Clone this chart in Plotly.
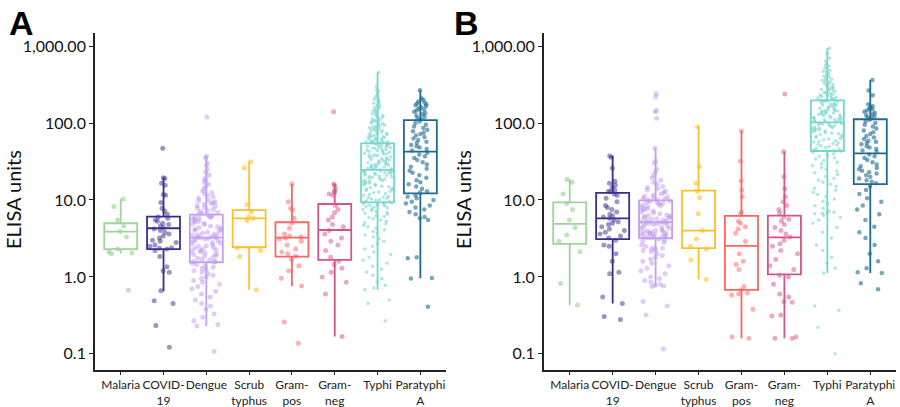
import plotly.graph_objects as go

categories = ["Malaria", "COVID-<br>19", "Dengue", "Scrub<br>typhus", "Gram-<br>pos",
              "Gram-<br>neg", "Typhi", "Paratyphi<br>A"]
line_colors = ["#9ed49a", "#3d2c8d", "#c2a0f0", "#ffbf2b", "#ff6464", "#d4538a", "#73d6cc", "#1d6b8f"]
point_colors = ["rgba(150,208,142,0.6)", "rgba(61,44,141,0.5)", "rgba(185,145,238,0.45)",
                "rgba(255,191,43,0.6)", "rgba(255,100,100,0.5)", "rgba(212,83,138,0.5)",
                "rgba(100,208,198,0.5)", "rgba(29,107,143,0.6)"]
point_sizes = [5, 5, 5, 5, 5, 5, 3.5, 4.5]
ytick_vals = [0.1, 1, 10, 100, 1000]
ytick_text = ["0.1", "1.0", "10.0", "100.0", "1,000.00"]

# ---------- Panel A box statistics ----------
q1_a = [2.29, 2.29, 1.55, 2.43, 1.84, 1.66, 9.33, 12.2]
med_a = [3.88, 4.29, 3.24, 5.78, 3.24, 4.07, 24.6, 42.4]
q3_a = [4.98, 6.07, 6.45, 7.4, 5.13, 8.87, 54.5, 109]
lo_a = [2.03, 0.65, 0.23, 0.68, 0.76, 0.168, 0.68, 0.96]
hi_a = [10.3, 19.5, 37, 31.4, 16.1, 16.1, 455, 267]

# ---------- Panel B box statistics ----------
q1_b = [2.68, 3.09, 3.18, 2.36, 0.68, 1.08, 43.3, 16.1]
med_b = [4.88, 5.78, 5.13, 4.0, 2.53, 3.27, 102, 40.4]
q3_b = [9.33, 12.4, 9.9, 13.2, 6.2, 6.26, 197, 112]
lo_b = [0.43, 0.45, 0.75, 0.93, 0.16, 0.16, 1.12, 1.12]
hi_b = [18.6, 37.2, 46.9, 89.6, 78.7, 42.4, 935, 362]

# ---------- Panel A points ----------
malaria_a = [10.3, 8.2, 5.5, 4.6, 3.9, 3.3, 2.3, 2.1, 2.0, 2.05, 0.67]
covid_a = [47, 19.5, 19, 16.5, 15.5, 11.8, 11.5, 9.3, 7.8, 7.2, 6.5,
           6.0, 5.8, 5.5, 5.3, 5.0, 4.8, 4.6, 4.4, 4.2, 4.0, 3.8, 3.6, 3.4, 3.2, 3.0, 2.9, 2.8,
           2.6, 2.5, 2.4, 2.35, 2.3, 2.2, 1.84, 1.36, 1.2, 1.15, 0.66, 0.49, 0.45, 0.233, 0.122]
dengue_a = [120, 37, 35, 30, 28, 25, 23, 21, 19, 18, 17, 16, 15, 14, 13, 12.5, 12, 11.5, 11,
            10.5, 10, 9.8, 9.5, 9.2, 9.0, 8.8, 8.5, 8.3, 8.0, 7.8, 7.5, 7.3, 7.1, 6.9, 6.7, 6.6,
            6.4, 6.3, 6.1, 6.0, 5.9, 5.8, 5.6, 5.5, 5.3, 5.2, 5.0, 4.9, 4.8, 4.6, 4.5, 4.4, 4.3,
            4.2, 4.1, 4.0, 3.9, 3.8, 3.7, 3.6, 3.5, 3.45, 3.4, 3.35, 3.3, 3.25, 3.2, 3.15, 3.1,
            3.0, 2.95, 2.9, 2.8, 2.75, 2.7, 2.6, 2.55, 2.5, 2.4, 2.35, 2.3, 2.25, 2.2, 2.15, 2.1,
            2.05, 2.0, 1.95, 1.9, 1.85, 1.8, 1.75, 1.7, 1.65, 1.6, 1.58, 1.56, 1.5, 1.45, 1.4,
            1.35, 1.3, 1.25, 1.2, 1.15, 1.1, 1.05, 1.0, 0.95, 0.9, 0.85, 0.8, 0.75, 0.7, 0.65,
            0.6, 0.55, 0.5, 0.45, 0.42, 0.38, 0.33, 0.3, 0.27, 0.24, 0.23, 0.107]
scrub_a = [31.4, 26.3, 8.7, 7.0, 6.0, 5.8, 5.4, 2.4, 2.2, 1.84, 0.68]
grampos_a = [16.1, 9.5, 7.8, 7.4, 5.8, 5.0, 4.3, 3.6, 3.4, 3.3, 3.2, 3.1, 2.9, 2.6, 2.3, 2.1,
             2.0, 1.85, 1.7, 1.4, 1.2, 0.96, 0.76, 0.26, 0.137]
gramneg_a = [140, 16.1, 15.5, 14, 13, 12.5, 12, 11.5, 8.5, 7.5, 6.8, 6.0, 5.5, 4.8, 4.5, 4.0,
             3.6, 3.2, 2.9, 2.6, 2.2, 1.8, 1.6, 1.45, 1.3, 1.15, 1.0, 0.85, 0.6, 0.168]
typhi_a = [455, 300, 270, 258, 245, 232, 220, 212, 204, 196, 188, 181, 175, 169, 163, 158, 153,
           148, 144, 140, 136, 132, 128, 125, 122, 119, 116, 113, 110, 108, 106, 104, 102, 100,
           98, 96, 94, 92, 90, 88.5, 87, 85.5, 84, 82.5, 81, 79.5, 78, 76.5, 75, 73.5, 72, 71,
           70, 69, 68, 67, 66, 65, 64, 63, 62, 61, 60, 59, 58, 57.5, 57, 56.5, 56, 55.5, 55,
           54.2, 53.5, 52.8, 52, 51.3, 50.6, 50, 49.3, 48.6, 48, 47.3, 46.6, 46, 45.3, 44.6, 44,
           43.3, 42.6, 42, 41.3, 40.6, 40, 39.4, 38.8, 38.2, 37.6, 37, 36.4, 35.8, 35.2, 34.6,
           34, 33.5, 33, 32.5, 32, 31.5, 31, 30.5, 30, 29.6, 29.2, 28.8, 28.4, 28, 27.6, 27.2,
           26.8, 26.4, 26, 25.7, 25.4, 25.1, 24.8, 24.4, 24.1, 23.8, 23.5, 23.2, 22.9, 22.6,
           22.3, 22, 21.7, 21.4, 21.1, 20.8, 20.5, 20.2, 19.9, 19.6, 19.3, 19, 18.7, 18.4, 18.1,
           17.8, 17.5, 17.2, 16.9, 16.6, 16.3, 16, 15.7, 15.4, 15.1, 14.8, 14.5, 14.2, 13.9,
           13.6, 13.3, 13, 12.7, 12.4, 12.1, 11.8, 11.5, 11.2, 10.9, 10.7, 10.5, 10.3, 10.1, 9.9,
           9.7, 9.55, 9.4, 9.25, 9.1, 8.95, 8.8, 8.65, 8.5, 8.35, 8.2, 8.05, 7.9, 7.7, 7.5, 7.3,
           7.1, 6.9, 6.7, 6.5, 6.3, 6.1, 5.9, 5.7, 5.5, 5.3, 5.1, 4.9, 4.7, 4.5, 4.3, 4.1, 3.9,
           3.7, 3.5, 3.3, 3.1, 2.9, 2.7, 2.5, 2.3, 2.1, 1.95, 1.8, 1.65, 1.5, 1.38, 1.26, 1.15,
           1.05, 0.95, 0.86, 0.78, 0.72, 0.68, 0.5, 0.45, 0.27]
paratyphi_a = [267, 210, 200, 190, 185, 180, 175, 170, 165, 160, 155, 150, 145, 140, 135, 130,
               125, 120, 115, 112, 105, 100, 95, 90, 86, 82, 78, 75, 72, 69, 66, 63, 60, 57, 55,
               52, 50, 48, 46, 44, 41, 39, 37, 35, 33, 31, 29, 27, 25.5, 24, 22.5, 21, 19.5, 18,
               17, 16, 15, 14, 13, 12.5, 11.5, 11, 10.5, 10, 9.5, 9, 8.5, 8, 7.5, 7, 6.5, 6, 5.8,
               5.5, 1.8, 1.75, 0.97, 0.95, 0.41]

# ---------- Panel B points ----------
malaria_b = [18.6, 17, 12, 9, 7.5, 5.5, 4.4, 3.5, 2.9, 2.13, 0.82, 0.43]
covid_b = [37.2, 36, 26, 17.5, 16.5, 15.5, 14.5, 13.5, 13, 12.8, 12, 11.5, 10.5, 9.5, 8.5, 8,
           7.5, 7, 6.5, 6.2, 6, 5.8, 5.5, 5.2, 5, 4.8, 4.5, 4.2, 4.0, 3.8, 3.6, 3.4, 3.2, 3.0,
           2.6, 2.5, 2.0, 1.6, 1.15, 1.1, 0.55, 0.45, 0.305, 0.28]
dengue_b = [240, 220, 145, 140, 115, 46.9, 32, 30, 25, 23, 21, 19.5, 18, 17, 16, 15, 14.5, 14,
            13.5, 13, 12.5, 12, 11.5, 11.2, 11, 10.7, 10.5, 10.3, 10.1, 10, 9.8, 9.6, 9.4, 9.2,
            9.0, 8.8, 8.6, 8.4, 8.2, 8.0, 7.8, 7.6, 7.4, 7.2, 7.0, 6.8, 6.6, 6.4, 6.3, 6.2, 6.1,
            6.0, 5.9, 5.8, 5.7, 5.6, 5.5, 5.4, 5.3, 5.2, 5.15, 5.1, 5.05, 5.0, 4.9, 4.8, 4.7,
            4.6, 4.5, 4.4, 4.3, 4.2, 4.1, 4.0, 3.95, 3.9, 3.85, 3.8, 3.75, 3.7, 3.65, 3.6, 3.55,
            3.5, 3.45, 3.4, 3.35, 3.3, 3.25, 3.2, 3.1, 3.0, 2.9, 2.8, 2.6, 2.5, 2.4, 2.35, 2.3,
            2.25, 2.2, 2.1, 2.0, 1.9, 1.8, 1.7, 1.6, 1.5, 1.4, 1.3, 1.2, 1.1, 1.0, 0.95, 0.9,
            0.85, 0.8, 0.78, 0.76, 0.75, 0.48, 0.42, 0.32, 0.116]
scrub_b = [89.6, 27, 16.5, 13, 10.7, 6.6, 4.0, 3.14, 2.5, 2.3, 1.66, 0.93]
grampos_b = [78.7, 32, 17.8, 13.5, 11, 7, 6.5, 5.3, 5.0, 4.5, 4.2, 3.7, 2.9, 2.0, 1.6, 1.45,
             1.25, 0.75, 0.68, 0.62, 0.6, 0.58, 0.38, 0.165, 0.16]
gramneg_b = [238, 42.4, 20, 14, 11, 9.5, 8.5, 7.5, 6.8, 6.0, 5.6, 5.3, 4.8, 4.4, 4.0, 3.6, 3.3,
             3.0, 2.7, 2.5, 2.2, 2.0, 1.7, 1.4, 1.25, 1.05, 1.0, 0.8, 0.6, 0.55, 0.48, 0.47,
             0.32, 0.31, 0.165, 0.16, 0.16]
typhi_b = [935, 800, 700, 640, 590, 560, 550, 515, 485, 470, 460, 440, 420, 410, 400, 385, 370,
           360, 355, 342, 330, 325, 318, 307, 297, 295, 288, 280, 272, 268, 264, 257, 250, 248,
           244, 238, 232, 230, 226, 221, 216, 213, 211, 206, 202, 199, 196, 193, 190, 187, 184,
           181, 178, 175, 172, 169, 166, 163, 160, 157, 154, 151, 149, 147, 145, 143, 141, 139,
           137, 135, 133, 131, 129, 127, 125, 123, 121, 119, 117.5, 116, 114.5, 113, 111.5, 110,
           108.5, 107, 105.5, 104, 103, 101, 99.5, 98, 96.5, 95, 93.5, 92, 90.5, 89, 87.5, 86,
           84.5, 83, 81.5, 80, 78.5, 77, 75.5, 74, 72.5, 71, 69.5, 68, 66.5, 65, 63.5, 62, 60.5,
           59, 57.8, 56.6, 55.4, 54.2, 53, 51.8, 50.6, 49.4, 48.2, 47, 45.8, 44.6, 43.6, 43,
           41.5, 40, 38.5, 37, 35.5, 34, 32.5, 31, 29.5, 28, 26.5, 25, 23.8, 22.6, 21.4, 20.2,
           19, 18, 17, 16, 15, 14.2, 13.4, 12.6, 11.8, 11, 10.3, 9.6, 9, 8.4, 7.8, 7.2, 6.9, 6.8,
           6.7, 6.6, 6.3, 5.9, 5.5, 5.0, 4.4, 3.8, 3.2, 2.6, 2.2, 1.8, 1.5, 1.3, 1.12, 0.42,
           0.37, 0.22, 0.10]
paratyphi_b = [362, 265, 230, 175, 165, 160, 155, 150, 145, 140, 135, 130, 126, 122, 118, 115,
               110, 105, 100, 95, 90, 85, 80, 76, 72, 68, 65, 62, 59, 57, 55, 53, 50, 48, 46, 44,
               42, 39, 37, 35, 33, 31, 29, 27.5, 26, 25, 24, 23, 22, 21, 20, 19, 18, 17.2, 16.5,
               15, 13.5, 12, 10.5, 9.5, 8.5, 7.5, 6.5, 5.5, 4.5, 3.8, 3.2, 2.6, 2.0, 1.6, 1.3,
               1.15, 1.12, 0.83, 0.69]

points_a = [malaria_a, covid_a, dengue_a, scrub_a, grampos_a, gramneg_a, typhi_a, paratyphi_a]
points_b = [malaria_b, covid_b, dengue_b, scrub_b, grampos_b, gramneg_b, typhi_b, paratyphi_b]

FONT = "Lato"
BOX_W = 0.77

fig = go.Figure()


def add_panel(xa, ya, points, q1, med, q3, lo, hi):
    for i, pts in enumerate(points):
        fig.add_trace(go.Box(
            x=[i] * len(pts), y=pts, xaxis=xa, yaxis=ya, orientation="v",
            boxpoints="all", jitter=0.9, pointpos=0, width=BOX_W,
            fillcolor="rgba(0,0,0,0)", line=dict(width=0, color="rgba(0,0,0,0)"),
            marker=dict(color=point_colors[i], size=point_sizes[i],
                        line=dict(width=0)),
            showlegend=False, hoverinfo="skip"))
    for i in range(len(points)):
        fig.add_trace(go.Box(
            x=[i], q1=[q1[i]], median=[med[i]], q3=[q3[i]],
            lowerfence=[lo[i]], upperfence=[hi[i]], xaxis=xa, yaxis=ya,
            orientation="v", boxpoints=False, width=BOX_W, whiskerwidth=0,
            fillcolor="rgba(0,0,0,0)", line=dict(width=1.8, color=line_colors[i]),
            showlegend=False, hoverinfo="skip"))


add_panel("x", "y", points_a, q1_a, med_a, q3_a, lo_a, hi_a)
add_panel("x2", "y2", points_b, q1_b, med_b, q3_b, lo_b, hi_b)

xaxis_common = dict(
    range=[-0.6, 7.6], tickmode="array", tickvals=list(range(8)), ticktext=categories,
    tickangle=0, automargin=False,
    showline=True, linecolor="#222", linewidth=1.8, showgrid=False, zeroline=False,
    ticks="outside", ticklen=3, tickcolor="#222", tickwidth=1,
    tickfont=dict(family=FONT, size=12, color="#222"), fixedrange=True)
yaxis_common = dict(
    type="log", range=[-1.21, 3.17], tickmode="array", tickvals=ytick_vals,
    ticktext=ytick_text, showline=True, linecolor="#222", linewidth=1.8, automargin=False,
    showgrid=False, zeroline=False, ticks="outside", ticklen=4, tickcolor="#222",
    tickwidth=1, tickfont=dict(family=FONT, size=16, color="#111"), domain=[0.0909, 0.9189])

fig.update_layout(
    width=900, height=407, margin=dict(l=0, r=0, t=0, b=0),
    paper_bgcolor="white", plot_bgcolor="white", boxmode="overlay",
    xaxis=dict(domain=[0.1056, 0.4956], anchor="y", **xaxis_common),
    yaxis=dict(anchor="x", **yaxis_common),
    xaxis2=dict(domain=[0.6044, 0.9956], anchor="y2", **xaxis_common),
    yaxis2=dict(anchor="x2", **yaxis_common),
    annotations=[
        dict(text="<b>A</b>", x=7 / 900, y=1 - 2 / 407, xref="paper", yref="paper",
             xanchor="left", yanchor="top", showarrow=False,
             font=dict(family="Liberation Sans", size=34, color="black")),
        dict(text="<b>B</b>", x=452 / 900, y=1 - 2 / 407, xref="paper", yref="paper",
             xanchor="left", yanchor="top", showarrow=False,
             font=dict(family="Liberation Sans", size=34, color="black")),
        dict(text="ELISA units", x=13 / 900, y=1 - 200 / 407, xref="paper", yref="paper",
             xanchor="center", yanchor="middle", textangle=-90, showarrow=False,
             font=dict(family=FONT, size=20, color="#111")),
        dict(text="ELISA units", x=463 / 900, y=1 - 200 / 407, xref="paper", yref="paper",
             xanchor="center", yanchor="middle", textangle=-90, showarrow=False,
             font=dict(family=FONT, size=20, color="#111")),
    ],
)

fig.write_html("out.html")
